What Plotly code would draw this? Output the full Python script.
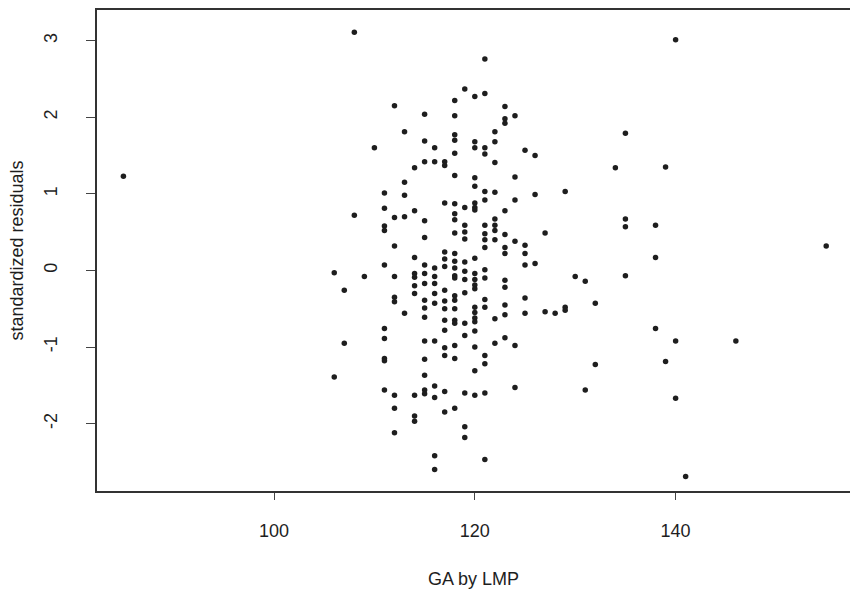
import plotly.graph_objects as go

# Gestational age by last menstrual period (days) and the matching standardized residual,
# listed column by column along the x axis.
ga_days = (
    [85]
    + [106] * 2 + [107] * 2 + [108] * 2 + [109] + [110]
    + [111] * 10 + [112] * 9 + [113] * 5 + [114] * 10
    + [115] * 16 + [116] * 12 + [117] * 15 + [118] * 23
    + [119] * 14 + [120] * 21 + [121] * 18 + [122] * 10
    + [123] * 12 + [124] * 6 + [125] * 6 + [126] * 3
    + [127] * 2 + [128] + [129] * 3 + [130] + [131] * 2
    + [132] * 2 + [134] + [135] * 4 + [138] * 3 + [139] * 2
    + [140] * 3 + [141] + [146] + [155]
)

std_resid = [
    1.23,
    -0.03, -1.39,
    -0.26, -0.95,
    3.11, 0.72,
    -0.08,
    1.60,
    # 111
    1.01, 0.81, 0.58, 0.52, 0.07, -0.76, -0.89, -1.15, -1.18, -1.56,
    # 112
    2.15, 0.69, 0.32, -0.08, -0.35, -0.41, -1.63, -1.80, -2.12,
    # 113
    1.81, 1.15, 0.98, 0.70, -0.56,
    # 114
    1.34, 0.78, 0.17, -0.04, -0.09, -0.20, -0.30, -1.63, -1.90, -1.97,
    # 115
    2.04, 1.69, 1.42, 0.65, 0.43, 0.07, -0.04, -0.17, -0.39, -0.49,
    -0.61, -0.92, -1.16, -1.37, -1.56, -1.61,
    # 116
    1.60, 1.42, 0.03, -0.08, -0.17, -0.30, -0.43, -0.92, -1.51, -1.66,
    -2.42, -2.60,
    # 117
    1.42, 1.37, 0.88, 0.24, 0.15, 0.05, -0.26, -0.40, -0.50, -0.65,
    -0.78, -1.01, -1.11, -1.58, -1.85,
    # 118
    2.22, 2.02, 1.77, 1.70, 1.53, 1.24, 0.87, 0.74, 0.66, 0.49,
    0.22, 0.12, 0.03, -0.07, -0.10, -0.33, -0.39, -0.50, -0.65, -0.69,
    -0.98, -1.15, -1.80,
    # 119
    2.37, 0.82, 0.59, 0.50, 0.41, 0.11, -0.01, -0.12, -0.29, -0.69,
    -0.85, -1.60, -2.04, -2.18,
    # 120
    2.27, 1.68, 1.60, 1.21, 1.10, 0.88, 0.82, 0.79, 0.16, -0.04,
    -0.12, -0.19, -0.24, -0.48, -0.55, -0.62, -0.67, -0.79, -1.00, -1.31,
    -1.63,
    # 121
    2.76, 2.31, 1.60, 1.52, 1.03, 0.92, 0.59, 0.48, 0.40, 0.30,
    0.01, -0.10, -0.38, -0.48, -1.11, -1.22, -1.60, -2.47,
    # 122
    1.81, 1.68, 1.41, 1.02, 0.67, 0.59, 0.52, 0.40, -0.63, -0.95,
    # 123
    2.14, 1.98, 1.92, 0.78, 0.47, 0.30, 0.22, -0.13, -0.22, -0.45,
    -0.58, -0.88,
    # 124
    2.02, 1.22, 0.92, 0.38, -0.98, -1.53,
    # 125
    1.57, 0.33, 0.22, 0.07, -0.36, -0.56,
    # 126 and beyond
    1.50, 0.99, 0.09,
    0.49, -0.54,
    -0.56,
    1.03, -0.48, -0.52,
    -0.08,
    -0.14, -1.56,
    -0.43, -1.23,
    1.34,
    1.79, 0.67, 0.57, -0.07,
    0.59, 0.17, -0.76,
    1.35, -1.19,
    3.01, -0.92, -1.67,
    -2.69,
    -0.92,
    0.32,
]

x_ticks = [100, 120, 140]
y_ticks = [-2, -1, 0, 1, 2, 3]

ink = "#1e1e1e"
font = dict(family="Liberation Sans, Arial, sans-serif", size=18, color=ink)

fig = go.Figure(
    go.Scatter(
        x=ga_days,
        y=std_resid,
        mode="markers",
        marker=dict(size=5.5, color=ink, line=dict(width=0)),
        hoverinfo="x+y",
    )
)

fig.update_layout(
    width=850,
    height=596,
    margin=dict(l=97, r=0, t=10, b=105),
    paper_bgcolor="white",
    plot_bgcolor="white",
    showlegend=False,
    font=font,
)

fig.update_xaxes(
    range=[82.37, 157.37],
    tickvals=x_ticks,
    ticktext=[str(v) for v in x_ticks],
    ticks="outside",
    ticklen=7,
    tickwidth=1.3,
    tickcolor="#444",
    ticklabelstandoff=16,
    showline=True,
    linecolor="#333",
    linewidth=1.6,
    mirror=True,
    showgrid=False,
    zeroline=False,
    tickfont=font,
    title=dict(text="GA by LMP", font=font, standoff=32),
)

fig.update_yaxes(
    range=[-2.88, 3.40],
    tickvals=y_ticks,
    ticktext=[str(v) for v in y_ticks],
    tickangle=-90,
    ticks="outside",
    ticklen=9,
    tickwidth=1.3,
    tickcolor="#444",
    ticklabelstandoff=22,
    showline=True,
    linecolor="#333",
    linewidth=1.6,
    showgrid=False,
    zeroline=False,
    tickfont=font,
    title=dict(text="standardized residuals", font=font, standoff=13),
)

fig.write_html("out.html")
